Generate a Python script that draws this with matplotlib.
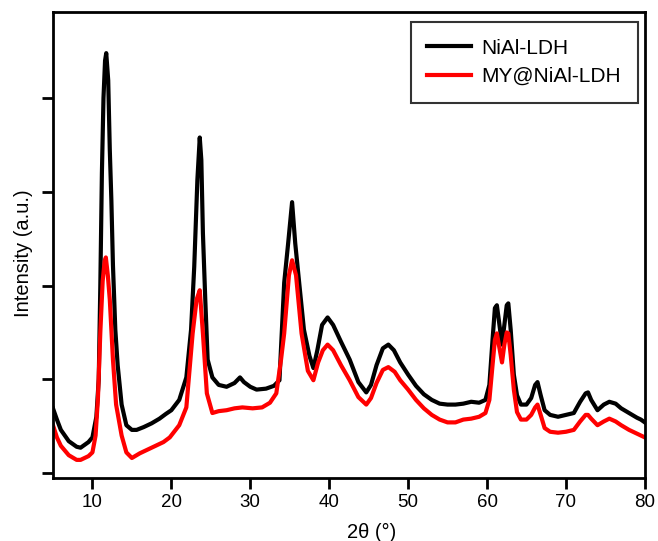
import matplotlib
matplotlib.use('Agg')
import matplotlib.pyplot as plt

plt.rcParams['font.family'] = ['Liberation Sans', 'DejaVu Sans']

# 2theta positions (deg) and intensity (a.u.)
x_nial = [5.0, 5.5, 6.0, 7.0, 8.0, 8.5, 9.0, 9.5, 10.0, 10.5, 10.8, 11.0, 11.2, 11.4, 11.6, 11.75,
          12.0, 12.2, 12.4, 12.6, 12.9, 13.2, 13.7, 14.3, 15.0, 15.6, 16.5, 17.5, 18.5, 19.3,
          20.0, 21.0, 21.9, 22.5, 22.9, 23.3, 23.6, 23.8, 24.0, 24.3, 24.6, 25.2, 26.0, 27.0,
          28.0, 28.7, 29.2, 30.0, 30.8, 32.0, 33.0, 33.7, 34.3, 34.8, 35.3, 35.7, 36.2, 36.8,
          37.5, 38.0, 38.5, 39.1, 39.8, 40.5, 41.5, 42.6, 43.7, 44.7, 45.3, 46.0,
          46.8, 47.5, 48.2, 49.0, 50.0, 51.0, 52.0, 53.0, 54.0, 55.0, 56.0, 57.0, 58.0, 59.0,
          59.8, 60.3, 60.7, 61.0, 61.25, 61.5, 61.9, 62.2, 62.5, 62.7, 63.0, 63.4, 63.8, 64.3,
          65.0, 65.6, 66.1, 66.4, 66.8, 67.3, 68.0, 69.0, 70.0, 71.0, 71.8, 72.5, 72.8, 73.2,
          74.0, 74.8, 75.5, 76.3, 77.0, 78.0, 79.0, 79.5, 80.0]
y_nial = [69, 57, 46, 34, 28, 27, 30, 33, 38, 60, 100, 200, 320, 400, 440, 448,
          419, 345, 291, 222, 153, 115, 73, 51, 46, 46, 49, 53, 58, 63,
          67, 78, 102, 153, 220, 313, 358, 334, 256, 185, 121, 102, 94, 92,
          96, 102, 97, 92, 89, 90, 93, 99, 203, 245, 289, 245, 203, 153,
          125, 112, 131, 158, 166, 158, 140, 121, 97, 86, 94, 115,
          133, 137, 131, 118, 105, 93, 84, 78, 74, 73, 73, 74, 76, 75,
          78, 94, 142, 176, 179, 163, 137, 158, 179, 181, 153, 105, 83, 73,
          73, 80, 94, 97, 83, 67, 62, 60, 62, 64, 76, 85, 86, 78,
          67, 73, 76, 74, 69, 64, 59, 57, 54]

x_my = [5.0, 5.5, 6.0, 7.0, 8.0, 8.5, 9.0, 9.5, 10.0, 10.4, 10.7, 11.0, 11.3, 11.55, 11.7, 11.95,
        12.2, 12.6, 13.0, 13.7, 14.3, 15.0, 16.0, 17.0, 18.0, 19.0, 19.8, 21.0, 21.9, 22.7,
        23.2, 23.6, 24.0, 24.5, 25.2, 26.0, 27.0, 28.0, 29.0, 30.3, 31.5, 32.5, 33.3, 33.9,
        34.3, 34.9, 35.3, 35.8, 36.5, 37.3, 38.0, 38.6, 39.2, 39.8, 40.5, 41.5, 42.6, 43.7,
        44.7, 45.3, 46.0, 46.8, 47.5, 48.3, 49.0, 50.0, 51.0,
        52.0, 53.0, 54.0, 55.0, 56.0, 57.0, 58.0, 59.0, 59.8, 60.3, 60.7, 61.0, 61.25, 61.5,
        61.9, 62.2, 62.5, 62.7, 63.0, 63.4, 63.8, 64.3, 65.0, 65.6, 66.1, 66.4, 66.8, 67.3,
        68.0, 69.0, 70.0, 71.0, 71.8, 72.5, 72.8, 73.2, 74.0, 74.8, 75.5, 76.3, 77.0, 78.0,
        79.0, 80.0]
y_my = [51, 38, 29, 19, 14, 14, 16, 18, 22, 40, 80, 150, 205, 226, 230, 211,
        185, 121, 73, 40, 22, 16, 21, 25, 29, 33, 38, 51, 70, 149,
        185, 195, 149, 85, 64, 66, 67, 69, 70, 69, 70, 75, 85, 121,
        149, 211, 227, 211, 149, 109, 99, 118, 131, 137, 131, 115, 99, 81,
        73, 80, 96, 110, 113, 108, 99, 89, 78,
        69, 62, 57, 54, 54, 57, 58, 60, 64, 78, 115, 142, 149, 137,
        118, 137, 150, 149, 126, 89, 65, 57, 57, 62, 70, 73, 62, 48,
        44, 43, 44, 46, 55, 62, 62, 58, 51, 55, 58, 55, 51, 46,
        42, 38]

fig = plt.figure(figsize=(6.58, 5.41), dpi=100)
ax = fig.add_axes([0.0805, 0.1165, 0.8995, 0.8615])

ax.plot(x_nial, y_nial, color='black', lw=3, label='NiAl-LDH')
ax.plot(x_my, y_my, color='red', lw=3, label='MY@NiAl-LDH')

ax.set_xlim(5, 80)
ax.set_ylim(-5.3, 492)
ax.set_xticks(range(10, 81, 10))
ax.set_yticks([0, 100, 200, 300, 400])
ax.set_yticklabels([])
ax.tick_params(direction='out', length=8, width=2, labelsize=13.5)
for s in ax.spines.values():
    s.set_linewidth(2)

ax.set_xlabel('2θ (°)', fontsize=14.5)
ax.xaxis.set_label_coords(0.539, -0.097)
ax.set_ylabel('Intensity (a.u.)', fontsize=14.5)
ax.yaxis.set_label_coords(-0.034, 0.483)

leg = ax.legend(loc='upper right', fontsize=15, frameon=True, fancybox=False,
                edgecolor='black', handlelength=2.1, handletextpad=0.5,
                borderpad=0.8, labelspacing=0.45,
                bbox_to_anchor=(0.988, 0.9785), borderaxespad=0)
leg.get_frame().set_linewidth(1.5)
for h in leg.get_lines():
    h.set_linewidth(3)

fig.savefig('out.png', dpi=100)
